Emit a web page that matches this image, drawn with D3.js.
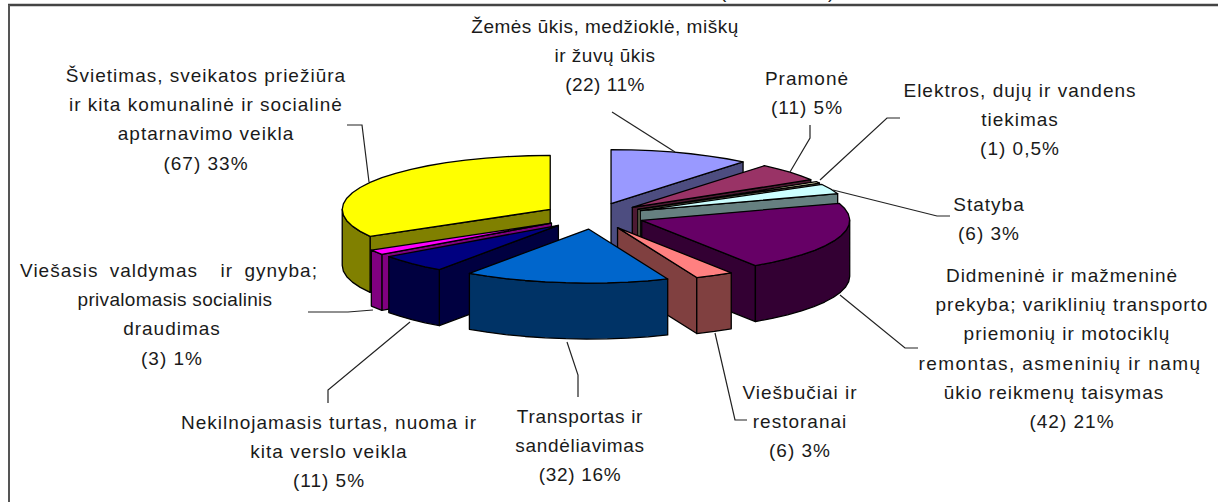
<!DOCTYPE html>
<html>
<head>
<meta charset="utf-8">
<script src="https://d3js.org/d3.v7.min.js"></script>
<style>
  body { margin: 0; background: #fff; }
  svg { display: block; }
  text { font-family: "Liberation Sans", Arial, sans-serif; font-size: 19px; fill: #1a1a1a; white-space: pre; }
</style>
</head>
<body>
<svg width="1218" height="502"></svg>
<script>
// chart data, clockwise from 12 o'clock
const categories = [
  ["Žemės ūkis, medžioklė, miškų", "ir žuvų ūkis"],
  ["Pramonė"],
  ["Elektros, dujų ir vandens", "tiekimas"],
  ["Statyba"],
  ["Didmeninė ir mažmeninė", "prekyba; variklinių transporto", "priemonių ir motociklų", "remontas, asmeninių ir namų", "ūkio reikmenų taisymas"],
  ["Viešbučiai ir", "restoranai"],
  ["Transportas ir", "sandėliavimas"],
  ["Nekilnojamasis turtas, nuoma ir", "kita verslo veikla"],
  ["Viešasis valdymas  ir gynyba;", "privalomasis socialinis", "draudimas"],
  ["Švietimas, sveikatos priežiūra", "ir kita komunalinė ir socialinė", "aptarnavimo veikla"]
];
const values = [22, 11, 1, 6, 42, 6, 32, 11, 3, 67];
const percents = ["11%", "5%", "0,5%", "3%", "21%", "3%", "16%", "5%", "1%", "33%"];

// top face / wall colours
const topColors = ["#9999ff", "#993366", "#ffffcc", "#ccffff", "#660066", "#ff8080", "#0066cc", "#000080", "#ff00ff", "#ffff00"];
const wallColors = ["#4d4d80", "#4d1a33", "#808066", "#668080", "#330033", "#804040", "#003366", "#000040", "#800080", "#808000"];

// where the label blocks sit: centre x, first line y, letter spacing
const labelPos = [
  [605, 33, 0.5], [807, 85, 1], [1020, 97, 1], [989, 211, 1], [1072, 282, 1],
  [800, 399, 1], [580, 423, 0.7], [329, 429, 1], [172, 277, 1], [206, 82, 1]
];
const lineStep = 29.2;

// single lines that sit off the block centre or run wider: block, line, dx, letter spacing, word spacing
const lineTweaks = [
  [4, 0, -10, 1, 0],
  [4, 2, -5, 1, 0],
  [4, 3, -12, 1.4, 0],
  [4, 4, -18, 1, 0],
  [8, 0, -3, 1, 5],
  [8, 1, 3, 0.3, 0]
];

// leader lines from label to slice
const leaders = [
  [[612, 112], [675, 152]],
  [[810, 125], [810, 138], [790, 172]],
  [[900, 118], [887, 118], [820, 180]],
  [[950, 216], [937, 216], [833, 190]],
  [[840, 295], [905, 348], [918, 348]],
  [[715, 333], [735, 420], [747, 420]],
  [[567, 342], [578, 375], [578, 397]],
  [[410, 322], [328, 390], [328, 403]],
  [[308, 312], [348, 312], [373, 310]],
  [[347, 125], [362, 125], [369, 182]]
];

const svg = d3.select("svg");

// pie geometry
const cx = 594, cy = 216, rx = 208, ry = 54, depth = 56, explode = 0.243;

const slices = d3.pie().sort(null).value(d => d)(values).map((s, i) => {
  const mid = (s.startAngle + s.endAngle) / 2;
  return {
    a0: s.startAngle,
    a1: s.endAngle,
    i: i,
    ax: cx + explode * rx * Math.sin(mid),
    ay: cy - explode * ry * Math.cos(mid)
  };
});

const line = d3.line();
const closed = pts => line(pts) + "Z";

function rim(s, a) {
  return [s.ax + rx * Math.sin(a), s.ay - ry * Math.cos(a)];
}
function down(p) {
  return [p[0], p[1] + depth];
}
// outline of the arc, roughly 6 degree steps like the original
function arcPoints(s, a0, a1) {
  const n = Math.max(1, Math.ceil((a1 - a0) / (6 * Math.PI / 180)));
  return d3.range(n + 1).map(k => rim(s, a0 + (a1 - a0) * k / n));
}

// frame: only top and left edges are in the picture
svg.append("line").attr("x1", 8).attr("x2", 1218).attr("y1", 5).attr("y2", 5)
  .attr("stroke", "#444").attr("stroke-width", 2.4);
svg.append("line").attr("x1", 9).attr("x2", 9).attr("y1", 5).attr("y2", 502)
  .attr("stroke", "#555").attr("stroke-width", 2);

// the title is cut off by the image edge, only its brackets hang below it
svg.append("text").attr("x", 720).attr("y", -2).text("(");
svg.append("text").attr("x", 828).attr("y", -2).text(")");

// back to front
const order = slices.slice().sort((a, b) => d3.ascending(a.ay, b.ay));

const g = svg.append("g").attr("stroke", "#000").attr("stroke-width", 1.3).attr("stroke-linejoin", "round");

order.forEach(s => {
  const wall = wallColors[s.i];
  const apex = [s.ax, s.ay];

  if (Math.sin(s.a0) < 0) {
    const p = rim(s, s.a0);
    g.append("path").attr("fill", wall).attr("d", closed([apex, p, down(p), down(apex)]));
  }
  if (Math.sin(s.a1) > 0) {
    const p = rim(s, s.a1);
    g.append("path").attr("fill", wall).attr("d", closed([apex, p, down(p), down(apex)]));
  }
  // rounded wall, only the part facing us
  const from = Math.max(s.a0, Math.PI / 2), to = Math.min(s.a1, 3 * Math.PI / 2);
  if (to > from) {
    const pts = arcPoints(s, from, to);
    g.append("path").attr("fill", wall).attr("d", closed(pts.concat(pts.map(down).reverse())));
  }
  g.append("path").attr("fill", topColors[s.i]).attr("d", closed([apex].concat(arcPoints(s, s.a0, s.a1))));
});

// leaders
svg.append("g").selectAll("path").data(leaders).enter().append("path")
  .attr("d", d => line(d))
  .attr("fill", "none")
  .attr("stroke", "#222")
  .attr("stroke-width", 1.2);

// labels
categories.forEach((lines, i) => {
  const t = svg.append("text")
    .attr("text-anchor", "middle")
    .style("letter-spacing", labelPos[i][2] + "px");
  lines.concat([`(${values[i]}) ${percents[i]}`]).forEach((txt, k) => {
    const tweak = lineTweaks.find(d => d[0] === i && d[1] === k);
    const span = t.append("tspan")
      .attr("x", labelPos[i][0] + (tweak ? tweak[2] : 0))
      .attr("y", labelPos[i][1] + k * lineStep)
      .text(txt);
    if (tweak) {
      span.style("letter-spacing", tweak[3] + "px").style("word-spacing", tweak[4] + "px");
    }
  });
});
</script>
</body>
</html>
